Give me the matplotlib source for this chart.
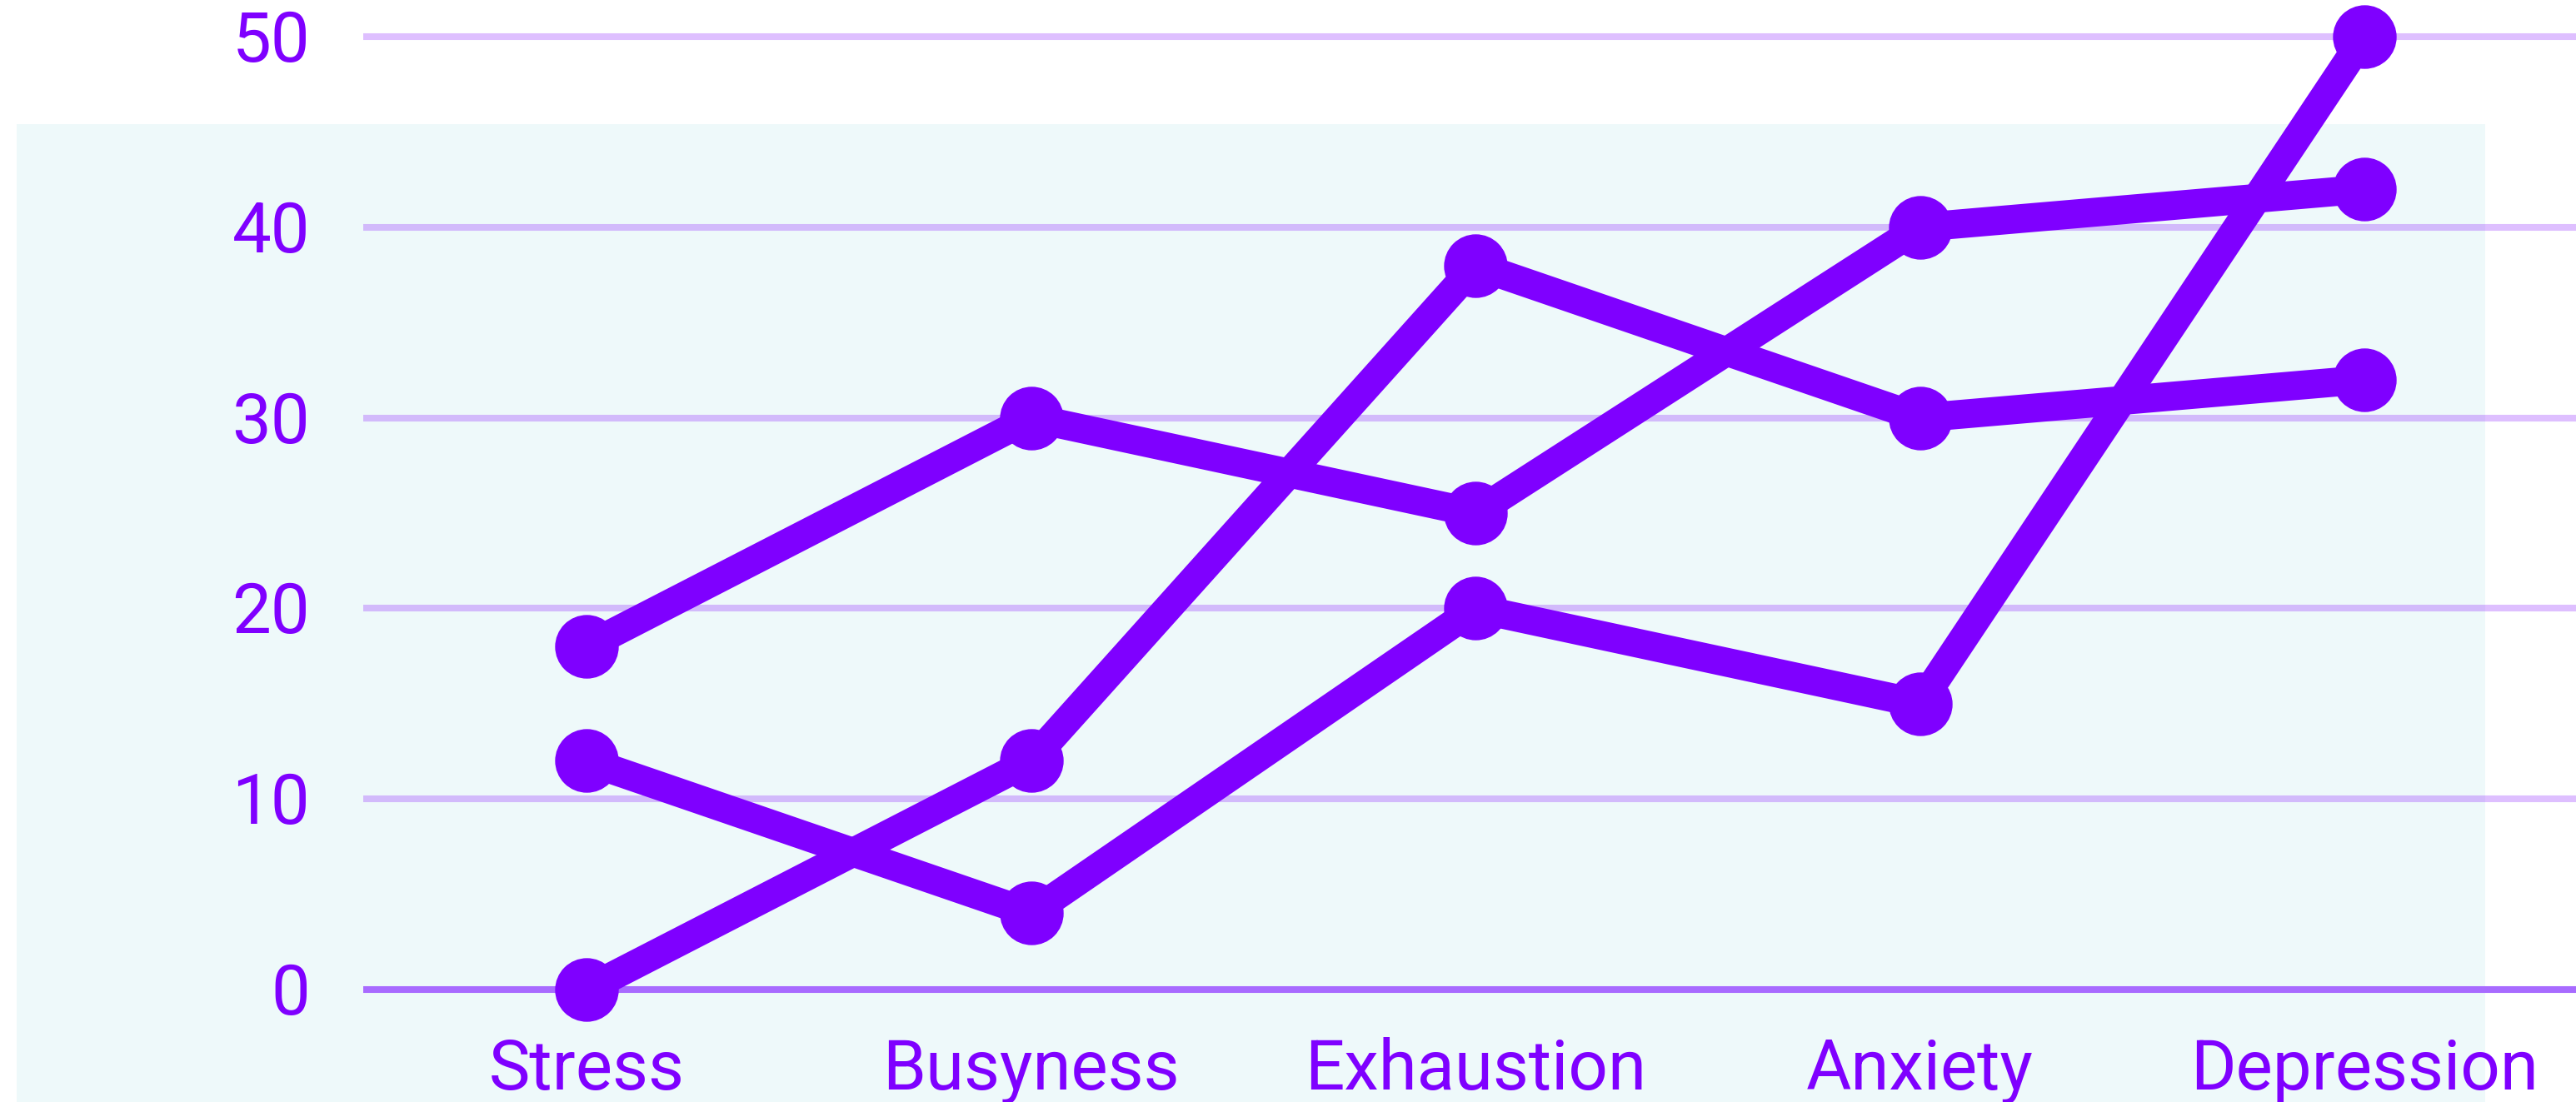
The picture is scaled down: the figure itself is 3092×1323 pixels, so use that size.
import matplotlib
matplotlib.use("Agg")
import matplotlib.pyplot as plt
from matplotlib.patches import Rectangle

# -----------------------------
# DATA
# -----------------------------
categories = ["Stress", "Busyness", "Exhaustion", "Anxiety", "Depression"]
series_a = [18, 30, 25, 40, 42]
series_b = [12, 4, 20, 15, 50]
series_c = [0, 12, 38, 30, 32]
y_ticks = [0, 10, 20, 30, 40, 50]

# -----------------------------
# STYLE
# -----------------------------
PURPLE = "#7F00FF"
GRID = (127 / 255, 0, 1, 0.25)
ZERO = "#A86BFF"
BG = "#EEF9FA"
W, H, DPI = 3092, 1323, 100

plt.rcParams["font.family"] = ["Roboto", "DejaVu Sans"]

fig = plt.figure(figsize=(W / DPI, H / DPI), dpi=DPI)
fig.patch.set_facecolor("white")

# light cyan panel behind the plot
fig.patches.append(Rectangle((20 / W, 0), (2983 - 20) / W, (H - 149) / H,
                             transform=fig.transFigure, facecolor=BG,
                             edgecolor="none", zorder=-1))

left = 436 / W
ax = fig.add_axes([left, 0, 1 - left, 1])
ax.patch.set_alpha(0)
for s in ax.spines.values():
    s.set_visible(False)
ax.set_xticks([])
ax.set_yticks([])

# pixel-based limits
step_x = 533.5
x0 = -(704 - 436) / step_x
ax.set_xlim(x0, x0 + (W - 436) / step_x)
step_y = (1188 - 44) / 50
ax.set_ylim(-(H - 1188) / step_y, 50 + 44 / step_y)

# gridlines
for v in y_ticks:
    ax.axhline(v, color=ZERO if v == 0 else GRID, lw=5.8, zorder=1)
    ax.text(x0 - (436 - 372) / step_x, v - 30 / step_y, str(v),
            ha="right", va="baseline", color=PURPLE, fontsize=60,
            clip_on=False)

xs = list(range(len(categories)))
for ys in (series_a, series_b, series_c):
    ax.plot(xs, ys, color=PURPLE, lw=25, marker="o", markersize=54,
            solid_capstyle="round", solid_joinstyle="round", zorder=3,
            clip_on=False)

for i, name in enumerate(categories):
    ax.text(i, -(1308 - 1188) / step_y, name, ha="center", va="baseline",
            color=PURPLE, fontsize=60, clip_on=False)

fig.savefig("out.png", dpi=DPI)
